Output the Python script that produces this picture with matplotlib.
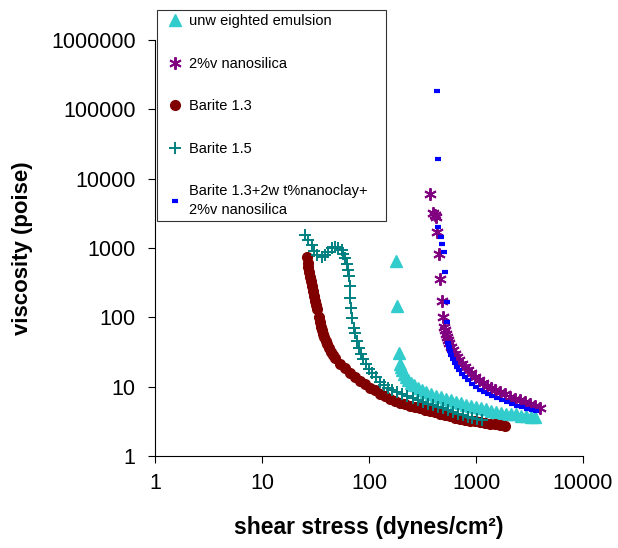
import matplotlib
matplotlib.use("Agg")
import matplotlib.pyplot as plt
from matplotlib import ticker

plt.rcParams['font.family'] = ['Liberation Sans', 'DejaVu Sans']

# unweighted emulsion
emul_x = [179, 183, 191, 195, 199, 203, 212, 222, 231, 247, 264, 287, 313, 341, 380, 423,
          471, 525, 584, 650, 724, 807, 898, 1000, 1114, 1240, 1381, 1538, 1713, 1908,
          2124, 2365, 2634, 2933, 3266, 3549]
emul_y = [650, 146, 30.6, 21.2, 19.2, 17.4, 15.2, 13.8, 12.5, 11.3, 10.6, 9.57, 8.95, 8.38,
          7.84, 7.33, 6.98, 6.64, 6.32, 6.01, 5.81, 5.53, 5.26, 5.09, 4.92, 4.69, 4.53,
          4.38, 4.24, 4.10, 4.03, 3.97, 3.83, 3.77, 3.71, 3.65]

# 2%v nanosilica
nsil_x = [372, 396, 410, 423, 432, 451, 461, 481, 492, 502, 513, 525, 535, 548, 559, 584,
          610, 636, 664, 694, 740, 789, 842, 898, 979, 1066, 1162, 1267, 1381, 1505, 1676,
          1866, 2078, 2314, 2577, 2870, 3196, 3559, 3963]
nsil_y = [6010, 3200, 2950, 2800, 1703, 820, 357, 172, 101, 72.6, 65.7, 57.5, 52.0, 47.1,
          42.7, 37.3, 33.8, 29.6, 26.8, 24.3, 21.2, 19.2, 17.4, 15.7, 13.8, 12.5, 11.3,
          10.2, 9.41, 8.81, 8.24, 7.71, 7.21, 6.75, 6.43, 6.01, 5.62, 5.26, 4.92]

# Barite 1.3
b13_x = [26.3, 26.9, 26.9, 27.5, 28.1, 28.8, 29.3, 30.0, 30.6, 31.4, 32.0, 32.8, 34.2, 35.0,
         35.8, 36.4, 37.3, 38.0, 39.8, 40.5, 42.4, 44.1, 46.1, 48.1, 53.6, 59.7, 66.4, 74.0,
         82.4, 91.8, 102, 114, 127, 141, 157, 175, 195, 217, 242, 269, 300, 334, 372, 414,
         461, 513, 571, 636, 708, 789, 879, 979, 1090, 1213, 1351, 1505, 1676, 1866]
b13_y = [745, 610, 532, 451, 382, 333, 283, 240, 203, 172, 151, 132, 101, 86,
         73, 65.7, 57.6, 52.0, 45.6, 41.2, 36.2, 31.6, 28.6, 25.9, 21.2, 18.6, 15.7, 13.8,
         12.1, 10.9, 9.57, 8.95, 7.84, 7.33, 6.64, 6.21, 5.81, 5.62, 5.26, 5.09, 4.92, 4.61,
         4.46, 4.31, 4.03, 3.90, 3.77, 3.53, 3.42, 3.31, 3.20, 3.15, 3.09, 2.99, 2.90,
         2.85, 2.80, 2.75]

# Barite 1.5
b15_x = [25.2, 26.9, 29.3, 30.6, 32.7, 36.4, 38.8, 41.4, 45.1, 48.1, 51.3, 55.9, 57.1, 59.7,
         62.3, 63.6, 65.0, 66.4, 66.4, 67.9, 69.3, 72.4, 74.0, 77.2, 80.7, 84.2, 87.9, 93.8,
         100, 107, 116, 127, 138, 151, 164, 183, 203, 227, 258, 287, 320, 356, 396, 442,
         492, 548, 610, 679, 756, 842, 918, 1022, 1138]
b15_y = [1540, 1305, 1105, 905, 793, 742, 793, 876, 1000, 1035, 1000, 935, 820, 718,
         587, 482, 395, 283, 190, 136, 98, 70, 59.5, 45.6, 36.1, 29.6, 25.1, 21.2,
         18.0, 15.7, 13.8, 11.7, 10.6, 9.57, 8.95, 8.38, 7.84, 7.33, 6.87, 6.43, 6.01, 5.71,
         5.44, 5.17, 4.92, 4.61, 4.31, 4.10, 3.90, 3.71, 3.53, 3.42, 3.31]

# Barite 1.3+2wt%nanoclay+2%v nanosilica
mix_x = [432, 442, 442, 471, 481, 502, 513, 535, 535, 548, 559, 571, 584, 610, 636, 664,
         694, 740, 789, 842, 918, 1000, 1090, 1188, 1295, 1413, 1570, 1750, 1949, 2170,
         2417, 2692, 2998, 3338, 3637]
mix_y = [184000, 19200, 2010, 1443, 1143, 875, 451, 166, 85.7, 42.7, 37.3, 32.7, 28.6, 25.1,
         21.9, 19.2, 17.4, 15.2, 13.8, 12.5, 11.1, 10.05, 9.10, 8.38, 7.84, 7.33, 6.87,
         6.43, 6.01, 5.62, 5.35, 5.09, 4.84, 4.61, 4.46]

labels = ['unw eighted emulsion', '2%v nanosilica', 'Barite 1.3', 'Barite 1.5',
          'Barite 1.3+2w t%nanoclay+\n2%v nanosilica']

fig = plt.figure(figsize=(6.18, 5.48), dpi=100)
ax = fig.add_axes([155/618, 1-456/548, 428/618, 416/548])

ax.plot(emul_x, emul_y, ls='none', marker='^', ms=8, color='#33CCCC', mec='#33CCCC', label=labels[0])
ax.plot(nsil_x, nsil_y, ls='none', marker=(6, 2, 0), ms=9, mew=1.4, color='#800080', label=labels[1])
ax.plot(b13_x, b13_y, ls='none', marker='o', ms=7, color='#800000', label=labels[2])
ax.plot(b15_x, b15_y, ls='none', marker='+', ms=9, mew=1.4, color='#008080', label=labels[3])
ax.plot(mix_x, mix_y, ls='none', marker='_', ms=5, mew=3, color='#0000FF', label=labels[4])

ax.set_xscale('log')
ax.set_yscale('log')
ax.set_xlim(1, 10000)
ax.set_ylim(1, 1000000)
ax.xaxis.set_major_locator(ticker.LogLocator(base=10, numticks=10))
ax.yaxis.set_major_locator(ticker.LogLocator(base=10, numticks=10))
ax.xaxis.set_minor_locator(ticker.NullLocator())
ax.yaxis.set_minor_locator(ticker.NullLocator())
fmt = ticker.FuncFormatter(lambda v, p: '%d' % int(round(v)))
ax.xaxis.set_major_formatter(fmt)
ax.yaxis.set_major_formatter(fmt)
ax.tick_params(axis='both', direction='out', length=5, width=0.8, labelsize=15.5)
ax.tick_params(axis='x', pad=7)
ax.tick_params(axis='y', pad=9)
for s in ['top', 'right']:
    ax.spines[s].set_visible(False)

ax.set_xlabel('shear stress (dynes/cm²)', fontsize=16.5, fontweight='bold')
ax.set_ylabel('viscosity (poise)', fontsize=16, fontweight='bold')
ax.xaxis.set_label_coords(0.5, -0.145)
ax.yaxis.set_label_coords(-0.285, 0.5)

leg = ax.legend(loc='upper left', bbox_to_anchor=(157/618, 1-225/548, 229/618, 215/548),
                bbox_transform=fig.transFigure, mode='expand', borderaxespad=0,
                fontsize=10.5, labelspacing=1.95, handlelength=1.9, handletextpad=0.0,
                fancybox=False, frameon=True, borderpad=0.3)
leg.get_frame().set_edgecolor('black')
leg.get_frame().set_linewidth(0.8)
for t in leg.get_texts():
    t.set_linespacing(1.45)

fig.savefig('out.png', dpi=100)
